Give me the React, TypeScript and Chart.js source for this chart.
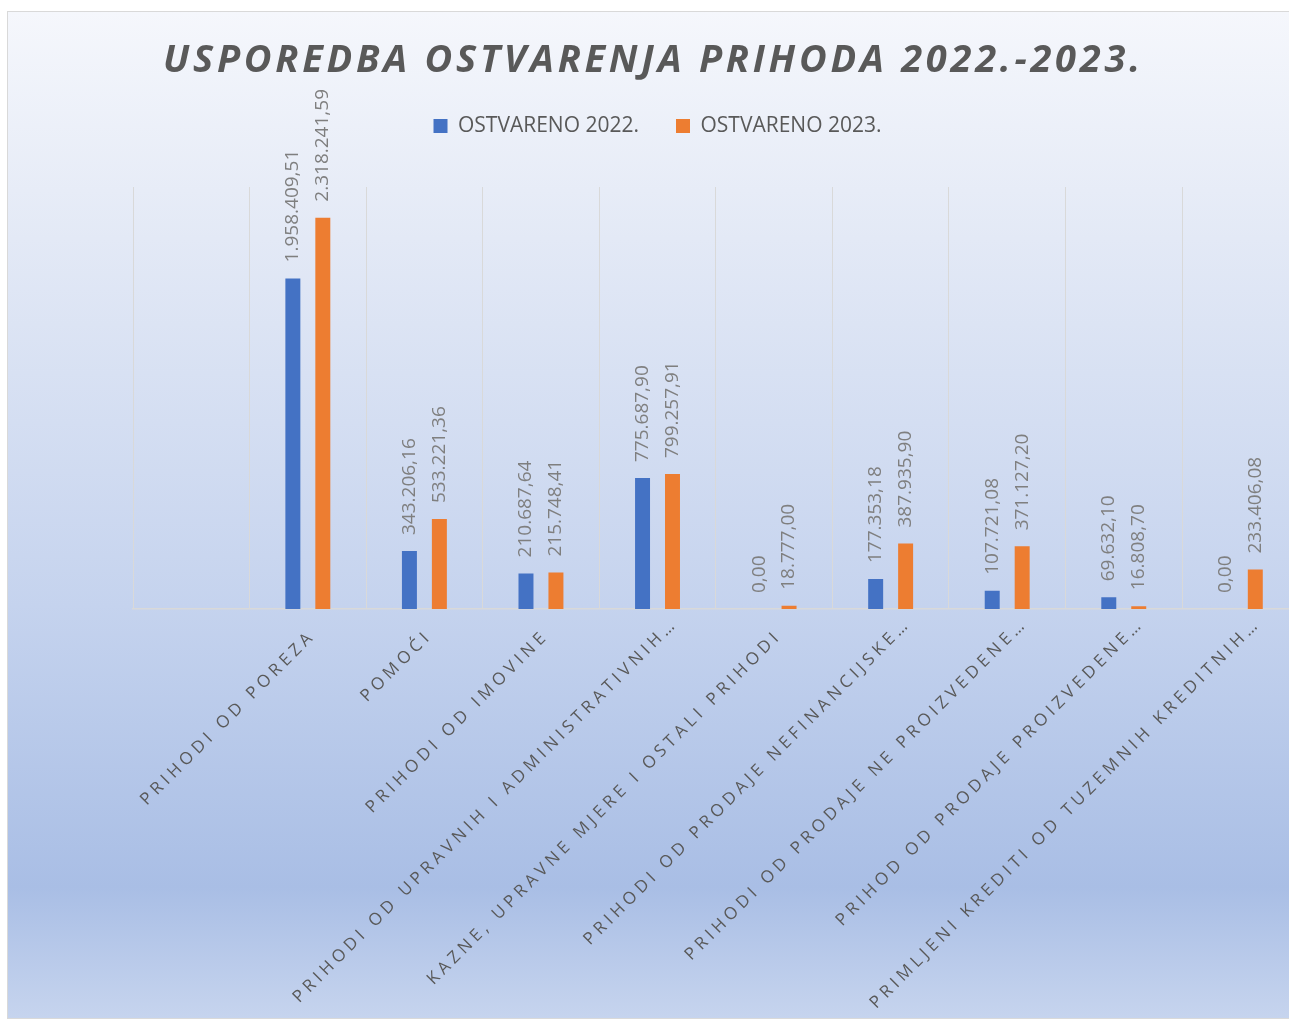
import React, { useEffect, useRef } from "react";
import { Chart, registerables, CategoryScale } from "chart.js";

Chart.register(...registerables);

const LABEL_SPACING = 4.3;
const LABEL_SIZE = 17;
const FONT = '"Open Sans", "Noto Sans", sans-serif';

class SpacedCategoryScale extends CategoryScale {
  static id = "spacedCategory";
  static defaults = CategoryScale.defaults;
  _computeLabelItems(chartArea: any) {
    const items = (CategoryScale.prototype as any)._computeLabelItems.call(this, chartArea);
    const ctx = (this as any).ctx as CanvasRenderingContext2D;
    ctx.save();
    ctx.font = `${LABEL_SIZE}px ${FONT}`;
    (ctx as any).letterSpacing = LABEL_SPACING + "px";
    const w = ctx.measureText("…").width;
    ctx.restore();
    items.forEach((it: any) => {
      if (typeof it.label === "string" && it.label.endsWith("…")) {
        const rot = it.options.rotation;
        const [tx, ty] = it.options.translation;
        it.options.translation = [tx + w * Math.cos(rot), ty + w * Math.sin(rot)];
      }
    });
    return items;
  }
  drawLabels(chartArea: any) {
    const ctx = (this as any).ctx as CanvasRenderingContext2D;
    ctx.save();
    (ctx as any).letterSpacing = LABEL_SPACING + "px";
    super.drawLabels(chartArea);
    ctx.restore();
  }
}
Chart.register(SpacedCategoryScale as any);

const TITLE = "USPOREDBA OSTVARENJA PRIHODA 2022.-2023.";
const SERIES_NAMES = ["OSTVARENO 2022.", "OSTVARENO 2023."];
const categories = [
  "",
  "PRIHODI OD POREZA",
  "POMOĆI",
  "PRIHODI OD IMOVINE",
  "PRIHODI OD UPRAVNIH I ADMINISTRATIVNIH…",
  "KAZNE, UPRAVNE MJERE I OSTALI PRIHODI",
  "PRIHODI OD PRODAJE NEFINANCIJSKE…",
  "PRIHODI OD PRODAJE NE PROIZVEDENE…",
  "PRIHOD OD PRODAJE PROIZVEDENE…",
  "PRIMLJENI KREDITI OD TUZEMNIH KREDITNIH…",
];
const values2022: (number | null)[] = [
  null, 1958409.51, 343206.16, 210687.64, 775687.9, 0, 177353.18, 107721.08, 69632.1, 0,
];
const values2023: (number | null)[] = [
  null, 2318241.59, 533221.36, 215748.41, 799257.91, 18777.0, 387935.9, 371127.2, 16808.7, 233406.08,
];
const Y_MIN = 0;
const Y_MAX = 2500000;

function fmt(v: number): string {
  const [i, d] = v.toFixed(2).split(".");
  const g = i.replace(/\B(?=(\d{3})+(?!\d))/g, ".");
  return g + "," + d;
}

const titlePlugin = {
  id: "customTitle",
  afterDraw(chart: any) {
    const ctx = chart.ctx as CanvasRenderingContext2D;
    ctx.save();
    ctx.font = `italic bold 38px ${FONT}`;
    (ctx as any).letterSpacing = "0px";
    const w0 = ctx.measureText(TITLE).width;
    const ls = (977 - w0) / (TITLE.length - 1);
    (ctx as any).letterSpacing = ls + "px";
    ctx.fillStyle = "#595959";
    ctx.textAlign = "left";
    ctx.textBaseline = "alphabetic";
    ctx.fillText(TITLE, 155, 60);
    ctx.restore();
  },
};

const dataLabelPlugin = {
  id: "dataLabels",
  afterDatasetsDraw(chart: any) {
    const ctx = chart.ctx as CanvasRenderingContext2D;
    ctx.save();
    ctx.font = `19px ${FONT}`;
    ctx.fillStyle = "#7f7f7f";
    ctx.textAlign = "left";
    ctx.textBaseline = "middle";
    chart.data.datasets.forEach((ds: any, di: number) => {
      const meta = chart.getDatasetMeta(di);
      meta.data.forEach((el: any, i: number) => {
        const v = ds.data[i];
        if (v === null || v === undefined) return;
        ctx.save();
        ctx.translate(el.x, el.y - 16);
        ctx.rotate(-Math.PI / 2);
        ctx.fillText(fmt(v), 0, 0);
        ctx.restore();
      });
    });
    ctx.restore();
  },
};

export default function App() {
  const ref = useRef<HTMLCanvasElement | null>(null);
  useEffect(() => {
    if (!ref.current) return;
    const chart = new Chart(ref.current, {
      type: "bar",
      data: {
        labels: categories,
        datasets: [
          {
            label: SERIES_NAMES[0],
            data: values2022,
            backgroundColor: "#4472c4",
            categoryPercentage: 0.514,
            barPercentage: 0.5,
          },
          {
            label: SERIES_NAMES[1],
            data: values2023,
            backgroundColor: "#ed7d31",
            categoryPercentage: 0.514,
            barPercentage: 0.5,
          },
        ],
      },
      options: {
        animation: false,
        responsive: true,
        maintainAspectRatio: false,
        layout: { padding: { top: 66.5, left: 0, right: 0, bottom: 0 } },
        plugins: {
          title: {
            display: true,
            text: "",
            weight: 500,
            font: { size: 10 },
            padding: { top: 0, bottom: 28.5 },
          } as any,
          legend: {
            display: true,
            position: "top",
            labels: {
              boxWidth: 14,
              boxHeight: 14,
              padding: 37,
              color: "#595959",
              font: { family: FONT, size: 21 },
            },
          },
          tooltip: { enabled: false },
        },
        scales: {
          x: {
            type: "spacedCategory" as any,
            offset: true,
            grid: {
              offset: true,
              display: true,
              color: "#d9d9d9",
              lineWidth: 1,
              drawTicks: false,
            },
            border: { display: true, color: "#d9d9d9", width: 1.5 },
            ticks: {
              autoSkip: false,
              maxRotation: 45,
              minRotation: 45,
              padding: 17,
              labelOffset: 5,
              color: "#595959",
              font: { family: FONT, size: LABEL_SIZE },
            },
            afterFit(s: any) {
              s.height = 409;
            },
          },
          y: {
            min: Y_MIN,
            max: Y_MAX,
            display: true,
            grid: { display: false },
            border: { display: false },
            ticks: { display: false },
            afterFit(s: any) {
              s.width = 125;
            },
          },
          y2: {
            position: "right",
            display: true,
            grid: { display: false },
            border: { display: false },
            ticks: { display: false },
            afterFit(s: any) {
              s.width = 8.4;
            },
          },
        },
      } as any,
      plugins: [titlePlugin, dataLabelPlugin],
    });
    return () => chart.destroy();
  }, []);

  return (
    <div
      style={{
        position: "fixed",
        left: 0,
        top: 0,
        width: "100vw",
        height: "100vh",
        overflow: "hidden",
        background: "#ffffff",
      }}
    >
      <div
        style={{
          position: "absolute",
          left: 7,
          top: 11,
          width: 1299,
          height: 1006,
          border: "1px solid #d9d9d9",
          background:
            "linear-gradient(to bottom, #f5f7fc 0%, #e7ecf7 17.7%, #c5d3ee 59%, #a9bee5 87%, #c6d4ee 100%)",
        }}
      >
        <canvas ref={ref} />
      </div>
    </div>
  );
}
